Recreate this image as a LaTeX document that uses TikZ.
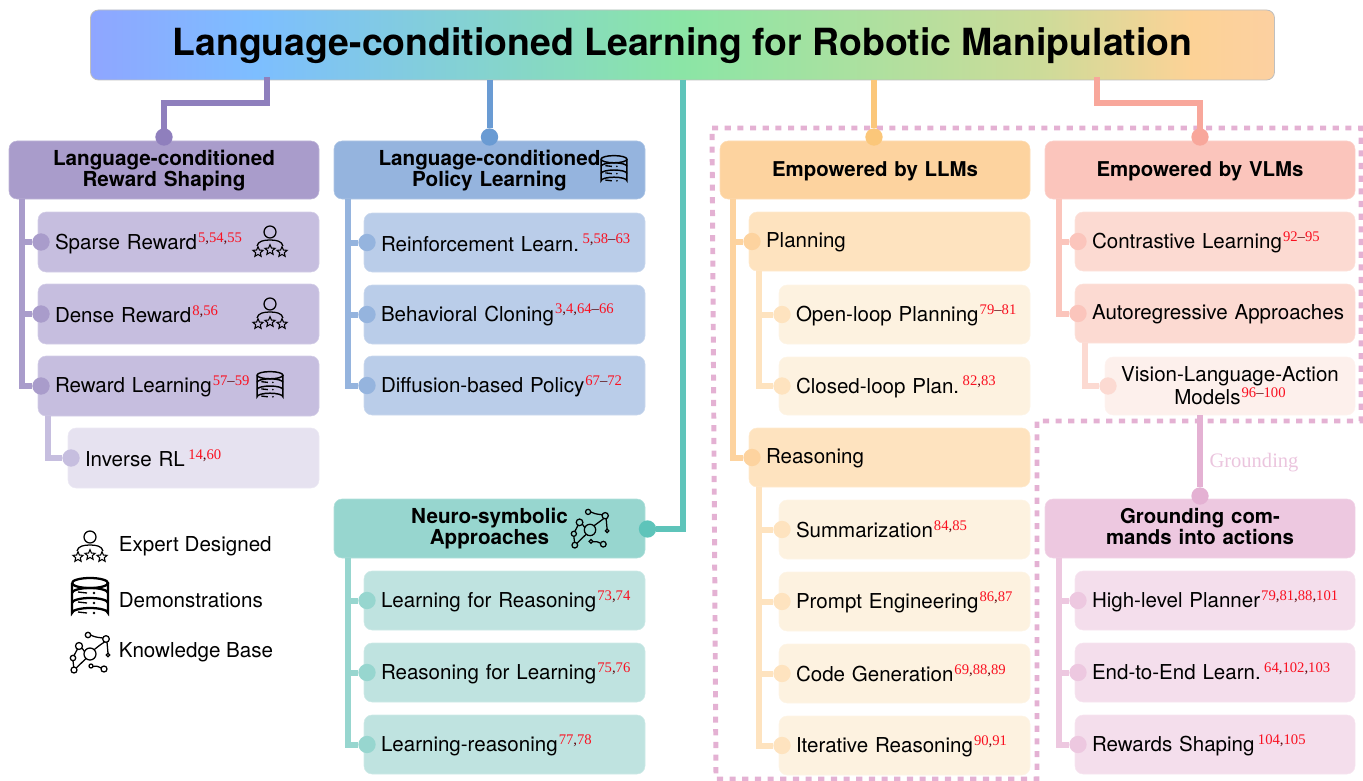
\documentclass[tikz,border=0pt]{standalone}
\usepackage{fontspec}
\setmainfont{TeX Gyre Heros}
\newfontfamily\timesf{Liberation Serif}
\usetikzlibrary{shapes.geometric}
\definecolor{pur1}{HTML}{8F7FBD}\definecolor{pur2}{HTML}{A99CCB}\definecolor{pur3}{HTML}{C6BEDF}\definecolor{pur4}{HTML}{E6E2F0}
\definecolor{blu1}{HTML}{6A9BD3}\definecolor{blu2}{HTML}{95B4DE}\definecolor{blu3}{HTML}{BACDE9}
\definecolor{tea1}{HTML}{5EC4BA}\definecolor{tea2}{HTML}{97D6CF}\definecolor{tea3}{HTML}{BFE3E0}
\definecolor{ora1}{HTML}{FBC77A}\definecolor{ora2}{HTML}{FDD39F}\definecolor{ora3}{HTML}{FEE3BF}\definecolor{ora4}{HTML}{FDF2E0}
\definecolor{sal1}{HTML}{F8A79B}\definecolor{sal2}{HTML}{FBC5BC}\definecolor{sal3}{HTML}{FCDAD2}\definecolor{sal4}{HTML}{FDF0EC}
\definecolor{pin1}{HTML}{E4B1D3}\definecolor{pin2}{HTML}{EDC8E0}\definecolor{pin3}{HTML}{F4DEEC}
\definecolor{citered}{HTML}{FA1020}
\pgfdeclarehorizontalshading{titleshade}{100bp}{
 rgb(0bp)=(0.56,0.65,1.0);
 rgb(25bp)=(0.56,0.65,1.0);
 rgb(32bp)=(0.49,0.745,1.0);
 rgb(50bp)=(0.545,0.90,0.65);
 rgb(65bp)=(0.80,0.86,0.60);
 rgb(71.5bp)=(0.99,0.825,0.59);
 rgb(75bp)=(0.99,0.815,0.63);
 rgb(100bp)=(0.99,0.815,0.63)}
\newcommand\rn[1]{\textcolor{citered}{#1}}
\newcommand\cit[1]{\smash{\raisebox{5.6pt}{\kern.8pt\fontsize{11}{11}\timesf\color{black!65!citered}#1}}}
\newcommand\bx[7]{%
 \pgfmathsetmacro\bw{(#4-#2)*0.75-2*12.75}%
 \pgfmathsetmacro\bh{(#5-#3)*0.75}%
 \node[#6,text width=\bw pt,minimum height=\bh pt] (#1) at ({(#2+#4)/2},{(#3+#5)/2}) {#7};}
% one-line box whose baseline lies #1 px (plus a little) under the centre of the box
\newcommand\sx[8][6.2]{%
 \pgfmathsetmacro\rh{9+1.5*(#1+0.8)}%
 \bx{#2}{#3}{#4}{#5}{#6}{#7}{\mbox{\rule[-4.5pt]{0pt}{\rh pt}#8}}}
\newcommand\hx[7]{\bx{#1}{#2}{#3}{#4}{#5}{#6}{\rule{0pt}{13.4pt}#7\rule[-4.5pt]{0pt}{4.5pt}}}
\tikzset{
 x=0.75pt,y=-0.75pt,
 basebox/.style={rounded corners=6pt,inner xsep=12.75pt,inner ysep=0pt,outer sep=0pt,font=\fontsize{15.4}{14.5}\selectfont},
 headbox/.style={basebox,fill=#1,draw=#1!75!white,line width=.4pt,align=center,font=\fontsize{15.5}{14.5}\selectfont\bfseries},
 narrowhead/.style={font=\fontsize{15.3}{14.5}\selectfont\bfseries},
 subbox/.style={basebox,fill=#1,draw=#1!75!white,line width=.4pt,align=left},
 ctrbox/.style={basebox,fill=#1,draw=#1!75!white,line width=.4pt,align=center},
 link/.style={draw=#1,line width=4.5pt,line join=miter,line cap=rect},
 branch/.style={draw=#1,line width=4.5pt,line join=miter},
 dotn/.style={circle,fill=#1,minimum size=13pt,inner sep=0pt,outer sep=0pt},
 legend/.style={font=\fontsize{15.45}{15}\selectfont,anchor=base west,inner sep=0pt},
 ico/.style={line width=.95pt,draw=black,fill=none},
 pics/expert/.style={code={
  \draw[ico] (0,-8) circle (6);
  \draw[ico] (-13,6) .. controls (-12,1) and (-6,0) .. (0,0) .. controls (6,0) and (12,1) .. (13,6);
  \foreach \p in {(-12,12),(0,10),(12,12)}
   \node[star,star points=5,star point ratio=2.2,draw,line width=.8pt,fill=none,minimum size=8pt,inner sep=0pt] at \p {};
 }},
 pics/dbicon/.style={code={
  \draw[ico,line width=#1] (-18,-15) arc[start angle=180,end angle=540,x radius=18,y radius=5];
  \draw[ico,line width=#1] (-18,-15) -- (-18,15) arc[start angle=180,end angle=360,x radius=18,y radius=5] -- (18,-15);
  \foreach \yy in {-5,5}
   \draw[ico,line width=#1] (-18,\yy) arc[start angle=180,end angle=360,x radius=18,y radius=5];
  \foreach \yy in {-5,5,15}{
   \draw[ico,line width=1pt] (-12,\yy-1) -- (-3,\yy);
   \fill (4,\yy) circle (1.3);
  }
 }},
 pics/kbicon/.style={code={
  \draw[ico] (0,1) circle (6);
  \draw[ico] (-2,-18) circle (2.7) (16,-14) circle (3.3) (-11,-7) circle (3.5) (18,2) circle (1.8)
   (-17,5) circle (2.7) (-16,17) circle (3) (1,13) circle (2) (14,16) circle (3);
  \draw[ico] (0.6,-18) .. controls (5,-16) .. (12.8,-15);
  \draw[ico] (14.5,-11) .. controls (10,-8) .. (4.2,-3.4);
  \draw[ico] (17,-10.8) -- (18,0.2);
  \draw[ico] (-8,-5) -- (-5.5,-1.5);
  \draw[ico] (-12.5,-4) -- (-16,2.5);
  \draw[ico] (-17,7.7) -- (-16.3,14);
  \draw[ico] (-13.8,15) -- (-4,5.5);
  \draw[ico] (3,13.5) .. controls (7,13) .. (11,15);
 }}
}
\begin{document}
\begin{tikzpicture}
\useasboundingbox (0,0) rectangle (1363,781);
% title
\node[rounded corners=6pt,shading=titleshade,draw=black!25,line width=.6pt,minimum width=888pt,minimum height=52.5pt,inner sep=0pt,outer sep=0pt,font=\fontsize{28.05}{30}\selectfont\bfseries] (title) at (682.5,45) {\rule[-8pt]{0pt}{32.5pt}Language-conditioned Learning for Robotic Manipulation};
% dashed region
\coordinate (da) at (712,128);\coordinate (db) at (1361,128);\coordinate (dc) at (1361,421);
\coordinate (dd) at (1037,421);\coordinate (de) at (1037,779);\coordinate (df) at (716,779);
\draw[pin1,line width=3.7pt,dash pattern=on 4.6pt off 4.9pt] (da) -- (db) -- (dc) -- (dd) -- (de) -- (df) -- cycle;
% column 1
\hx{ra}{9}{141}{319}{199}{headbox=pur2}{Language-conditioned\\Reward Shaping}
\sx[7]{rb}{38}{212}{319}{272}{subbox=pur3}{Sparse Reward\cit{\rn{5},\rn{54},\rn{55}}}
\sx[8]{rc}{38}{284}{319}{344}{subbox=pur3}{Dense Reward\cit{\rn{8},\rn{56}}}
\sx[5.7]{rd}{38}{356}{319}{416}{subbox=pur3}{Reward Learning\cit{\rn{57}–\rn{59}}}
\sx[7.7]{re}{68}{428}{319}{488}{subbox=pur4}{Inverse RL\cit{\,\rn{14},\rn{60}}}
% column 2
\hx{pa}{334}{141}{645}{199}{headbox=blu2}{Language-conditioned\\Policy Learning}
\sx[8]{pb}{364}{213}{645}{272}{subbox=blu3}{Reinforcement Learn.\cit{\,\rn{5},\rn{58}–\rn{63}}}
\sx[6]{pc}{364}{285}{645}{344}{subbox=blu3}{Behavioral Cloning\cit{\rn{3},\rn{4},\rn{64}–\rn{66}}}
\sx[6.5]{pd}{364}{356}{645}{415}{subbox=blu3}{Diffusion-based Policy\cit{\rn{67}–\rn{72}}}
\hx{na}{334}{499}{645}{558}{headbox=tea2}{Neuro-symbolic\\Approaches}
\sx{nb}{364}{571}{645}{630}{subbox=tea3}{Learning for Reasoning\cit{\rn{73},\rn{74}}}
\sx{nc}{364}{643}{645}{702}{subbox=tea3}{Reasoning for Learning\cit{\rn{75},\rn{76}}}
\sx{nd}{364}{715}{645}{774}{subbox=tea3}{Learning-reasoning\cit{\rn{77},\rn{78}}}
% column 3
\sx[5.7]{la}{720}{141}{1030}{199}{headbox=ora2,narrowhead}{Empowered by LLMs}
\sx[5]{lb}{749}{212}{1030}{271}{subbox=ora3}{Planning}
\sx{lc}{779}{285}{1030}{344}{subbox=ora4}{Open-loop Planning\cit{\rn{79}–\rn{81}}}
\sx{ld}{779}{357}{1030}{415}{subbox=ora4}{Closed-loop Plan.\cit{\,\rn{82},\rn{83}}}
\sx[5]{le}{749}{428}{1030}{487}{subbox=ora3}{Reasoning}
\sx[7.5]{lf}{779}{500}{1030}{559}{subbox=ora4}{Summarization\cit{\rn{84},\rn{85}}}
\sx{lg}{779}{572}{1030}{631}{subbox=ora4}{Prompt Engineering\cit{\rn{86},\rn{87}}}
\sx[7.5]{lh}{779}{644}{1030}{703}{subbox=ora4}{Code Generation\cit{\rn{69},\rn{88},\rn{89}}}
\sx{li}{779}{716}{1030}{775}{subbox=ora4}{Iterative Reasoning\cit{\rn{90},\rn{91}}}
% column 4
\sx[5.7]{va}{1045}{141}{1355}{199}{headbox=sal2,narrowhead}{Empowered by VLMs}
\sx[6.5]{vb}{1075}{212}{1355}{271}{subbox=sal3}{Contrastive Learning\cit{\rn{92}–\rn{95}}}
\sx[5]{vc}{1075}{284}{1355}{343}{subbox=sal3}{Autoregressive Approaches}
\bx{vd}{1105}{357}{1355}{415}{ctrbox=sal4}{\makebox[0pt][c]{\rule{0pt}{14.8pt}Vision-Language-Action}\\[2.2pt]\makebox[0pt][c]{Models\cit{\rn{96}–\rn{100}}\rule[-4.5pt]{0pt}{4.5pt}}}
\hx{ga}{1045}{499}{1355}{558}{headbox=pin2,narrowhead}{Grounding com-\\mands into actions}
\sx{gb}{1075}{571}{1355}{630}{subbox=pin3}{High-level Planner\cit{\rn{79},\rn{81},\rn{88},\rn{101}}}
\sx[6.5]{gc}{1075}{643}{1355}{702}{subbox=pin3}{End-to-End Learn.\cit{\,\rn{64},\rn{102},\rn{103}}}
\sx{gd}{1075}{715}{1355}{774}{subbox=pin3}{Rewards Shaping\cit{\,\rn{104},\rn{105}}}
% top dots
\node[dotn=pur1] (d1) at (164,137) {};
\node[dotn=blu1] (d2) at (489.5,137) {};
\node[dotn=tea1] (d3) at (647.5,529) {};
\node[dotn=ora1] (d4) at (874,137) {};
\node[dotn=sal1] (d5) at (1200,137) {};
\node[dotn=pin1] (d6) at (1200,496) {};
% top connectors
\coordinate (t1) at (267,80);\coordinate (t2) at (489.5,80);\coordinate (t3) at (682.5,80);\coordinate (t4) at (874,80);\coordinate (t5) at (1097,80);
\draw[link=pur1] (t1) -- ++(0,23) -| (d1);
\draw[branch=blu1] (t2) -- (d2);
\draw[branch=tea1] (t3) |- (d3);
\draw[branch=ora1] (t4) -- (d4);
\draw[link=sal1] (t5) -- ++(0,23) -| (d5);
\draw[branch=pin1] (vd.south -| d6) -- (d6);
\node[font=\fontsize{15.4}{15}\selectfont\timesf,text=pin1!75!white,inner sep=0pt] (gl) at (1254,463) {Grounding};
% tree dots and branches
\newcommand\lf[5]{% name, parent, colour, trunk x, dot x
 \node[dotn=#3] (#1dot) at (#5,0 |- #1.west) {};
 \draw[branch=#3] (#2.south -| #4,0) |- (#1dot);}
\lf{rb}{ra}{pur2}{21.5}{41}\lf{rc}{ra}{pur2}{21.5}{41}\lf{rd}{ra}{pur2}{21.5}{41}
\lf{re}{rd}{pur3}{48}{71}
\lf{pb}{pa}{blu2}{347.5}{367}\lf{pc}{pa}{blu2}{347.5}{367}\lf{pd}{pa}{blu2}{347.5}{367}
\lf{nb}{na}{tea2}{347.5}{367}\lf{nc}{na}{tea2}{347.5}{367}\lf{nd}{na}{tea2}{347.5}{367}
\lf{lb}{la}{ora2}{732.5}{752}\lf{le}{la}{ora2}{732.5}{752}
\lf{lc}{lb}{ora3}{759}{782}\lf{ld}{lb}{ora3}{759}{782}
\lf{lf}{le}{ora3}{759}{782}\lf{lg}{le}{ora3}{759}{782}\lf{lh}{le}{ora3}{759}{782}\lf{li}{le}{ora3}{759}{782}
\lf{vb}{va}{sal2}{1058.5}{1078}\lf{vc}{va}{sal2}{1058.5}{1078}
\lf{vd}{vc}{sal3}{1085}{1108}
\lf{gb}{ga}{pin2}{1058.5}{1078}\lf{gc}{ga}{pin2}{1058.5}{1078}\lf{gd}{ga}{pin2}{1058.5}{1078}
% icons
\pic at (270,240) {expert};
\pic at (270,312) {expert};
\pic[scale=.72,transform shape] at (270,386) {dbicon=1.1pt};
\pic[scale=.72,transform shape] at (614,170) {dbicon=1.1pt};
\pic[scale=.95,transform shape] at (590,529) {kbicon};
% legend
\pic at (90,545) {expert};
\pic at (90,598) {dbicon=1.7pt};
\pic at (90,653) {kbicon};
\node[legend] (l1) at (118.5,551) {Expert Designed};
\node[legend] (l2) at (118.5,607) {Demonstrations};
\node[legend] (l3) at (118.5,657.5) {Knowledge Base};
\end{tikzpicture}
\end{document}
